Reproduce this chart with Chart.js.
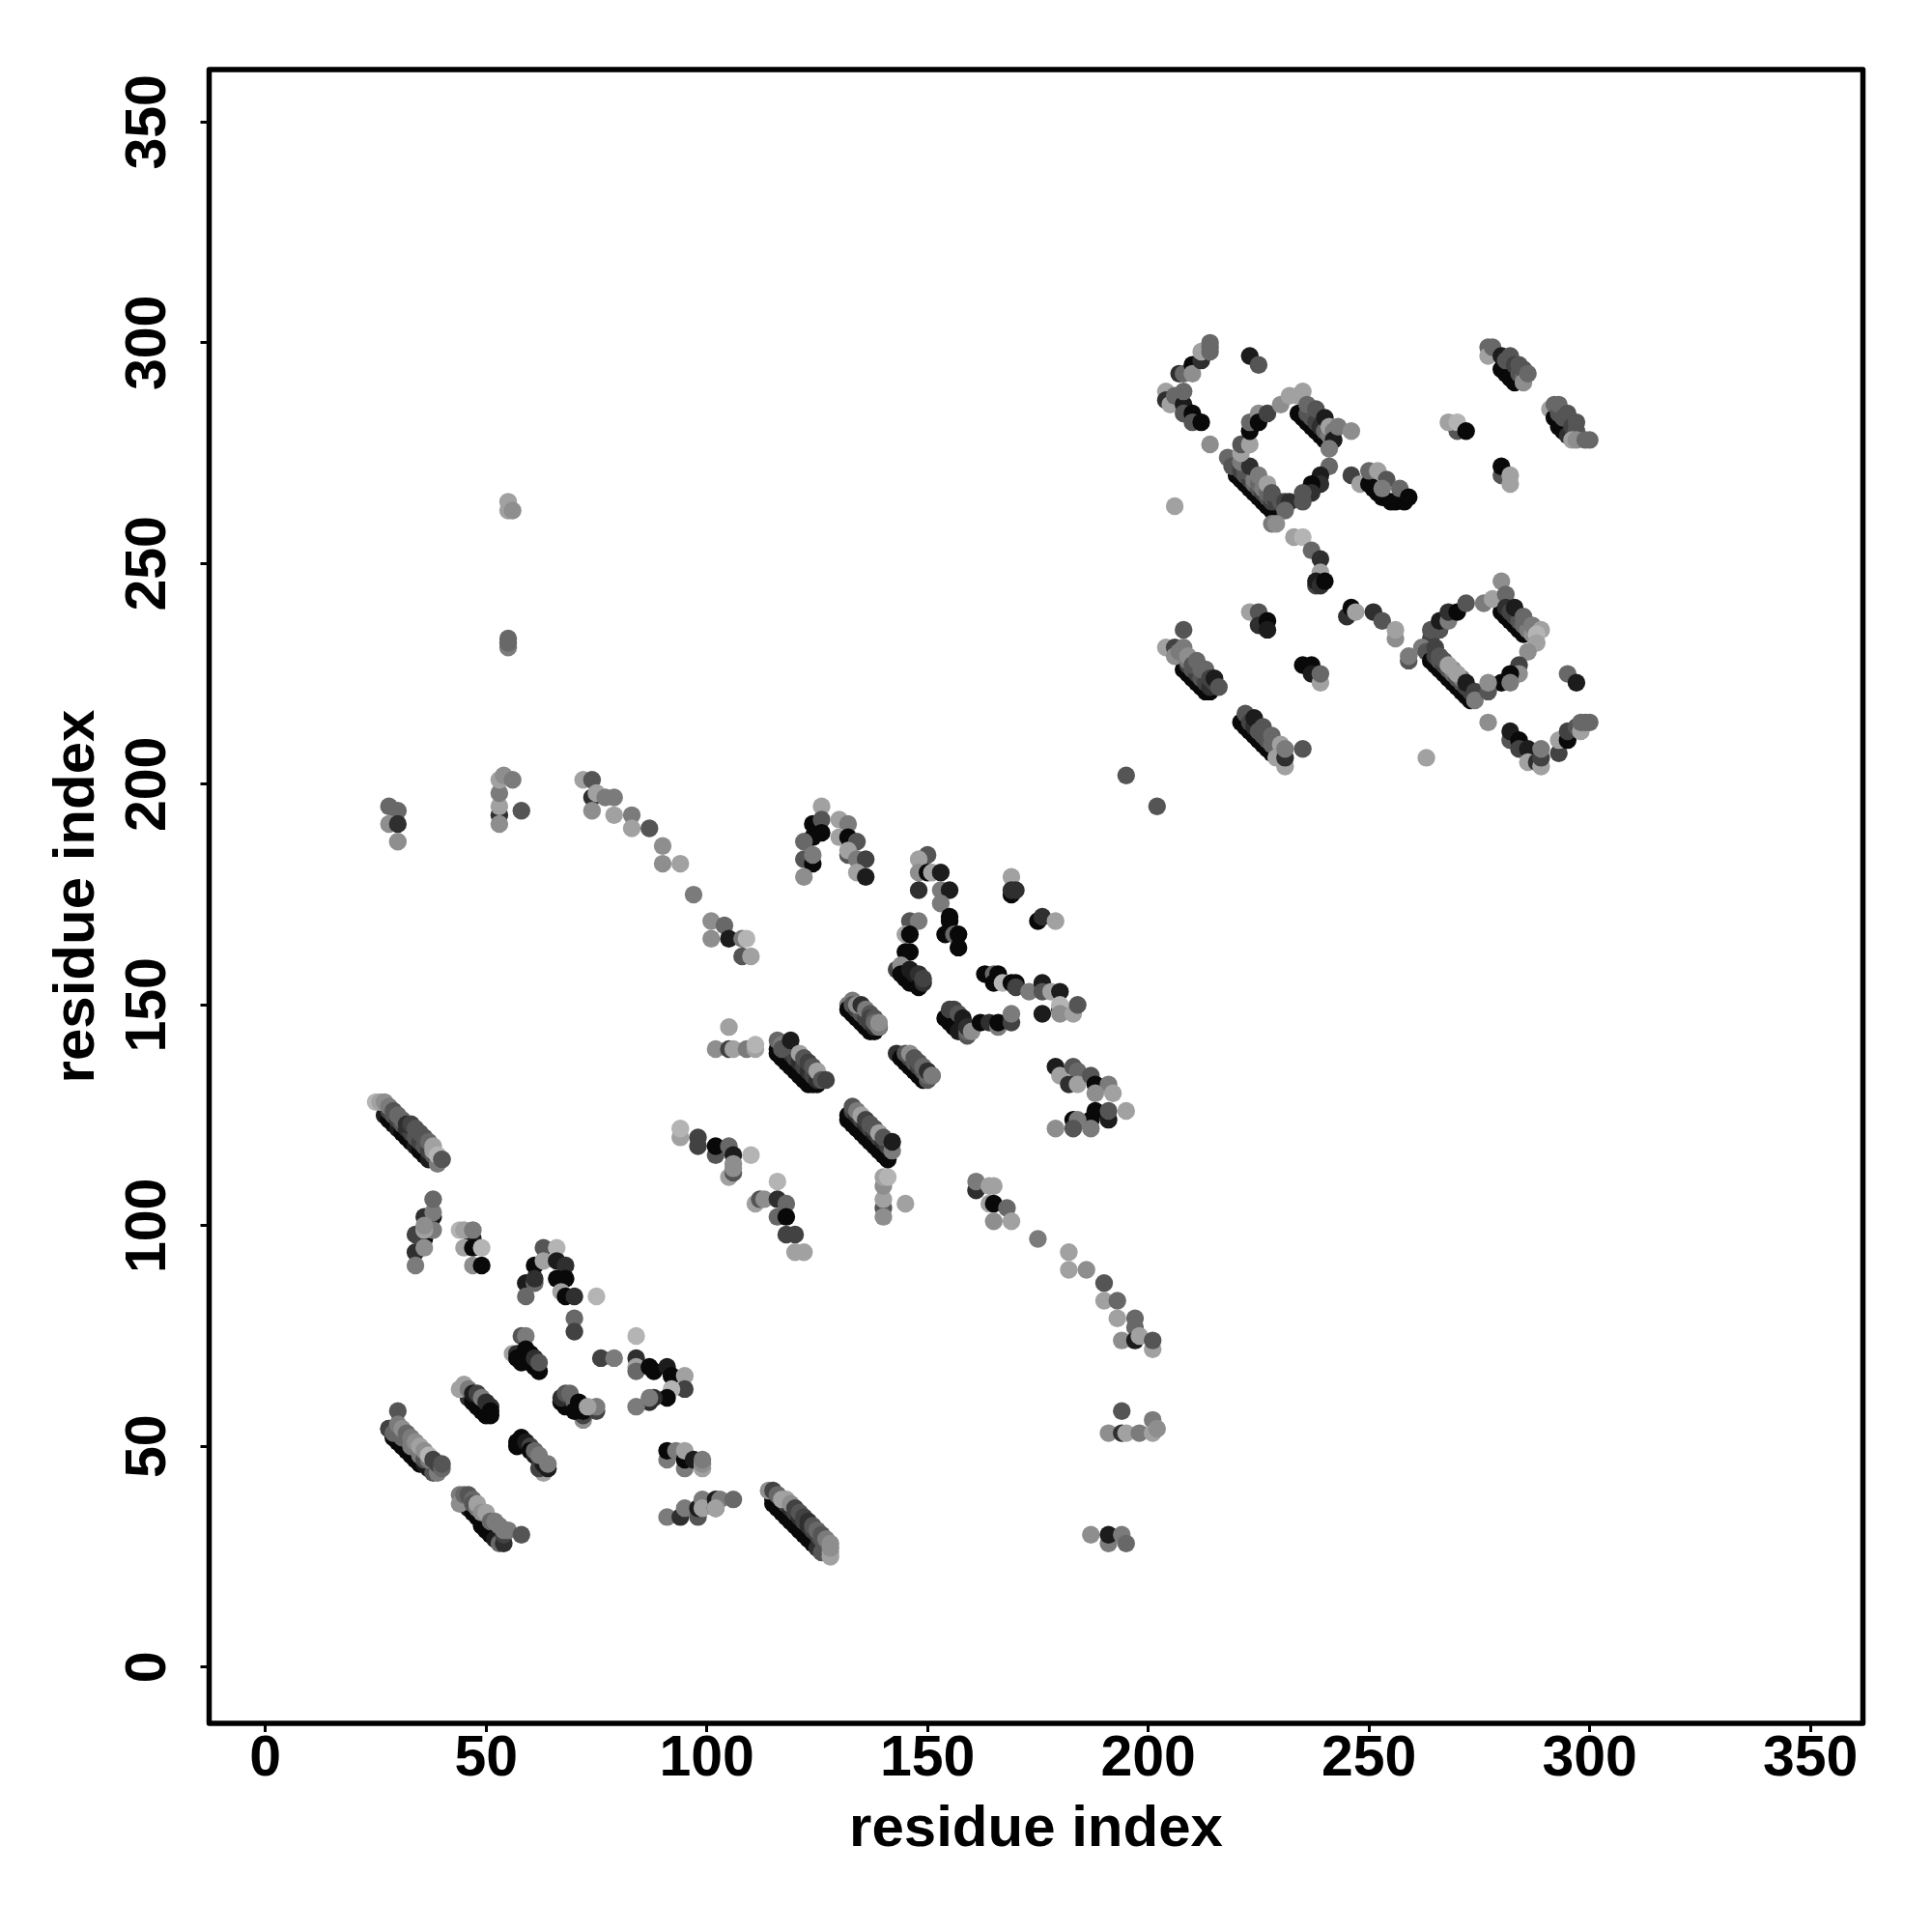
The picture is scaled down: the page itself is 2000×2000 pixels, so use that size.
<!DOCTYPE html>
<html>
<head>
<meta charset="utf-8">
<title>residue contacts</title>
<script src="https://cdn.jsdelivr.net/npm/chart.js@4/dist/chart.umd.min.js"></script>
<style>
    html, body { margin: 0; background: #fff; }
    canvas { display: block; }
</style>
</head>
<body>
<canvas id="contact-map" width="2000" height="2000"></canvas>
<script>
const tickValues = [0, 50, 100, 150, 200, 250, 300, 350];
const axisTitle = 'residue index';

// each contact is [residue x, residue y, strength 0 (weak) .. 9 (strong)]
const strand26to40 = [[27,125,8],[28,124,9],[29,123,9],[30,122,8],[31,121,9],[32,120,9],[33,119,9],[34,118,8],[35,117,9],[36,116,9],[37,115,8],
    [28,126,6],[29,125,5],[30,124,6],[31,123,5],[32,122,7],[33,121,6],[34,120,5],[35,119,6],[36,118,5],[37,117,6],[38,116,5],[39,114,3],
    [25,128,0],[26,128,1],[27,128,2],[28,127,3],[29,126,5],[30,125,4],[31,124,4],[32,123,7],[33,123,6],[34,122,5],[35,121,5],[36,120,5],[37,119,4],[38,118,1],[38,117,1],[39,116,0],[40,115,1],[40,115,5]];
const block34to38 = [[36,97,9],[34,98,6],[36,102,7],[38,102,8],[38,103,3],[38,106,4],[38,99,3],[36,99,1],[36,100,2],[34,94,7],[36,95,2],[34,91,3]];
const block44to49 = [[47,97,8],[44,99,0],[45,99,1],[47,99,3],[45,95,1],[47,95,9],[49,95,0],[47,91,2],[49,91,9]];
const block59to75 = [[63,95,5],[66,95,0],[61,91,9],[63,92,1],[66,92,8],[68,91,7],[59,87,8],[61,87,4],[61,88,7],[59,84,4],[66,88,9],[68,88,9],[67,85,1],[68,84,9],[70,84,7],[75,84,0],[70,79,4],[70,76,6]];
const block56to62 = [[58,75,5],[59,75,3],[56,71,1],[57,71,7],[57,70,9],[58,69,9],[59,72,9],[60,71,9],[60,69,9],[61,68,9],[62,67,9],[61,70,7],[62,69,5]];
const block76to95 = [[76,70,6],[79,70,3],[84,75,0],[84,70,7],[84,68,1],[84,67,4],[87,68,9],[88,67,9],[91,68,8],[92,66,9],[95,66,1],[95,63,6],[92,63,0],[91,61,9],[88,61,7],[87,60,7],[84,59,3],[87,61,3]];
const block67to75 = [[67,60,9],[68,59,9],[67,61,7],[68,62,5],[69,62,4],[70,60,4],[72,56,2],[72,57,6],[71,60,9],[72,59,9],[72,58,9],[70,58,9],[75,58,6],[75,59,3],[73,59,1]];
const strand44to51 = [[46,61,7],[47,60,9],[48,59,9],[49,58,9],[50,57,9],[51,57,9],[44,63,1],[45,64,1],[46,63,3],[47,62,8],[48,62,6],[49,61,3],[50,60,7],[51,59,7],[51,58,9]];
const strand57to64 = [[57,51,9],[58,52,9],[57,50,9],[59,51,8],[60,50,6],[60,49,9],[61,48,8],[62,47,7],[63,44,1],[62,45,6],[63,46,8],[61,49,4],[62,48,3],[64,45,8],[64,46,3]];
const strand28to40 = [[28,54,8],[29,52,9],[30,51,9],[31,50,9],[32,49,9],[33,48,9],[34,47,9],[35,46,9],[36,46,8],[37,45,8],[38,44,5],[39,44,3],[30,58,5],[28,54,6],[29,53,4],[30,53,4],[31,52,4],[33,50,3],[35,48,3],[36,47,5],[37,47,3],[30,55,3],[31,54,2],[32,53,4],[33,52,3],[34,51,2],[35,50,1],[36,49,2],[37,48,0],[38,47,6],[39,46,6],[40,45,4],[40,46,5]];
const strand44to58 = [[45,37,7],[46,36,8],[47,35,9],[48,34,9],[49,33,9],[49,32,9],[50,31,9],[51,30,9],[52,29,8],[53,28,4],[54,28,7],[44,39,3],[44,37,2],[45,39,4],[46,39,5],[47,38,4],[47,37,5],[48,36,3],[48,37,1],[49,35,2],[50,35,1],[51,33,4],[52,33,3],[53,32,3],[54,30,6],[54,31,3],[55,31,3],[58,30,5]];
const block91to99 = [[91,47,3],[91,49,9],[93,49,3],[95,45,3],[95,47,9],[95,49,1],[97,47,8],[99,45,1],[99,46,2],[99,47,3]];
const block91to106 = [[91,34,3],[94,34,7],[95,36,3],[98,34,5],[98,36,8],[99,38,3],[99,36,1],[102,36,6],[102,38,8],[103,38,3],[102,36,1],[106,38,4]];
const arc94to110 = [[94,120,1],[94,122,0],[98,118,6],[98,120,6],[102,116,5],[102,118,9],[105,118,4],[106,116,8],[110,116,0],[105,111,1],[106,112,5],[106,113,2],[106,114,2]];
const arc111to122 = [[116,110,0],[111,105,1],[112,106,5],[113,106,2],[116,106,7],[118,105,4],[116,102,4],[118,102,9],[118,98,6],[120,98,6],[120,94,1],[122,94,1]];
const strand114to128 = [[115,38,8],[115,37,9],[116,36,9],[117,35,9],[118,34,9],[119,33,9],[120,32,9],[121,31,9],[122,30,9],[123,29,9],[124,28,9],[125,27,7],[126,26,5],
    [116,39,6],[117,38,7],[118,37,6],[119,36,7],[120,35,6],[121,34,7],[122,33,6],[123,32,7],[124,31,6],[125,30,6],[126,29,5],
    [114,40,2],[115,40,6],[116,39,4],[117,38,1],[118,38,1],[119,37,2],[120,36,6],[121,35,5],[122,34,6],[123,33,7],[124,32,5],[125,31,4],[126,30,5],[128,25,1],[128,26,1],[127,29,3],[128,27,2],[128,28,2]];
const block187to195 = [[187,30,2],[191,28,3],[191,30,8],[194,30,3],[195,28,4]];
const block191to202 = [[194,58,5],[201,56,3],[191,53,2],[194,53,7],[195,53,1],[198,53,3],[201,53,1],[202,54,2]];
const arc175to201 = [[175,97,3],[182,94,1],[182,90,1],[186,90,2],[190,87,5],[190,83,1],[193,83,4],[193,79,1],[197,79,4],[197,77,4],[194,74,2],[197,74,8],[198,75,1],[201,72,1],[201,74,5]];
const block161to169 = [[161,108,7],[161,110,3],[164,109,1],[165,109,1],[164,105,1],[165,105,9],[168,104,4],[165,101,2],[169,101,1]];
const column140to145 = [[140,104,5],[140,102,2],[140,106,1],[140,109,2],[140,111,1],[141,111,0],[145,105,1]];
const strand131to142 = [[132,125,9],[132,124,9],[133,123,9],[134,122,9],[135,121,9],[136,120,9],[137,119,9],[138,118,9],[139,117,9],[140,116,9],[141,115,9],
    [133,126,6],[134,125,7],[135,124,6],[136,123,7],[137,122,6],[138,121,7],[139,120,6],[140,119,7],[141,118,6],
    [133,127,5],[134,126,3],[135,125,1],[136,124,6],[137,123,5],[138,122,5],[139,121,1],[140,120,5],[142,117,3],[142,119,8]];
const strand116to127 = [[116,140,9],[116,139,9],[117,138,9],[118,137,9],[119,136,9],[120,135,9],[121,134,9],[122,133,9],[123,132,9],[124,132,9],[125,132,9],
    [118,140,6],[119,139,7],[120,138,6],[121,137,7],[122,136,6],[123,135,7],[124,134,6],[125,133,7],
    [116,142,4],[117,141,3],[117,140,5],[119,142,8],[121,139,1],[122,138,5],[123,137,6],[124,136,5],[125,135,1],[126,133,5],[127,133,6]];
const row102to111 = [[105,145,1],[102,140,2],[105,140,6],[106,140,1],[109,140,3],[111,140,1],[111,141,0]];
const strand132to139 = [[132,150,3],[133,151,3],[132,149,9],[133,148,9],[134,147,9],[135,146,9],[136,145,9],[137,144,9],[138,144,9],[139,145,9],[133,150,5],[134,149,6],[135,148,5],[136,147,6],[137,146,6],[138,145,7],[134,150,2],[135,150,7],[136,149,3],[137,148,5],[137,147,6],[138,147,5],[138,146,4],[139,145,3],[139,146,2]];
const strand143to151 = [[143,139,7],[144,138,9],[145,137,9],[146,136,9],[147,135,9],[148,134,9],[149,133,9],[150,133,5],[146,138,6],[147,137,5],[148,136,6],[149,135,5],[150,134,4],[145,139,5],[146,139,2],[147,138,5],[148,137,5],[149,136,4],[150,135,7],[151,134,5],[151,134,3]];
const peak122to136 = [[126,195,1],[124,191,9],[126,192,5],[124,188,9],[126,189,9],[122,187,4],[122,183,5],[124,182,9],[124,184,3],[122,179,2],
    [130,192,1],[132,191,3],[130,188,1],[132,188,9],[134,187,5],[132,184,5],[132,185,1],[134,183,3],[136,183,6],[134,180,1],[136,179,8]];
const arc147to157 = [[150,184,5],[148,183,1],[148,180,2],[150,180,9],[151,180,1],[153,180,8],[148,176,7],[153,176,3],[155,176,8],[153,173,3],[155,170,9],[155,169,9],[154,166,9],[156,166,4],[157,166,9],[157,163,9]];
const arc143to149 = [[146,169,5],[148,169,3],[145,166,1],[146,166,9],[145,162,9],[146,162,9],[143,158,6],[144,159,2],[144,157,9],[145,156,9],[146,155,9],[146,158,8],[147,157,8],[148,154,9],[148,157,7],[149,155,7],[149,156,6]];
const block169to179 = [[169,179,1],[169,175,9],[169,176,7],[170,176,7],[175,169,9],[176,170,7],[179,169,1]];
const row163to184 = [[163,157,9],[165,157,4],[166,157,9],[165,155,9],[167,155,0],[169,155,9],[170,155,9],[170,154,6],[173,153,3],[176,155,8],[176,153,5],[178,153,1],[180,153,8],[180,149,8],[180,150,0],[176,148,8],[180,148,2],[183,148,1],[184,150,5]];
const row154to169 = [[154,147,9],[155,146,9],[156,145,9],[155,149,6],[156,149,6],[157,148,5],[158,147,8],[158,146,8],[157,144,8],[159,143,5],[159,144,4],[159,145,7],[160,144,2],[162,146,9],[164,146,7],[166,145,3],[166,146,9],[169,146,6],[169,148,3]];
const block179to195 = [[179,136,8],[180,134,1],[183,136,5],[184,135,4],[182,132,7],[184,132,1],[187,134,5],[188,132,9],[191,132,3],[188,130,2],[192,130,1],[187,124,9],[188,126,9],[191,124,8],[191,126,5],[195,126,1],[183,124,9],[184,124,3],[179,122,2],[183,122,5],[187,122,3]];
const column28to58 = [[28,195,4],[30,194,4],[28,191,2],[30,191,7],[30,187,2],[53,193,7],[53,191,2],[53,195,1],[53,198,3],[53,201,1],[54,202,2],[56,201,3],[58,194,5],[55,264,1],[55,262,1],[56,262,2],[55,231,3],[55,232,4],[55,233,4]];
const arc72to110 = [[72,201,1],[74,201,5],[74,197,7],[75,198,1],[74,194,2],[77,197,3],[79,197,3],[79,193,1],[83,193,3],[83,190,1],[87,190,5],[90,186,2],[90,182,2],[94,182,1],[97,175,3],[101,169,2],[101,165,2],[104,168,4],[105,165,8],[108,165,3],[108,161,5],[109,165,0],[110,161,1]];
const strand203to214 = [[204,289,1],[204,287,7],[205,286,1],[206,288,4],[208,286,8],[208,289,4],[208,284,5],[210,284,9],[210,282,5],[212,282,9],[207,293,7],[208,293,4],[210,295,9],[210,293,2],[212,296,7],[212,298,1],[214,298,4],[214,299,4],[214,300,4],[214,277,2],[206,263,1],[223,297,8],[225,295,5]];
const ringOne = [[220,270,9],[221,269,9],[222,268,9],[223,267,9],[224,266,9],[225,265,9],[226,264,9],[227,263,9],[228,262,9],[218,274,4],[219,272,5],
    [221,271,6],[222,270,5],[223,269,6],[224,268,4],[225,267,5],[226,266,6],[227,265,5],[228,264,6],
    [221,272,6],[222,271,5],[224,269,3],[225,268,4],[226,267,3],[227,266,4],[228,265,5],[229,264,6],
    [221,273,3],[223,272,7],[225,270,3],[227,268,1],[228,266,5],[230,264,5],[231,264,6],[232,264,7],[231,262,4],[228,259,3],[229,259,2],
    [221,275,1],[221,277,5],[223,277,1],[223,280,9],[223,282,4],[225,284,2],[225,282,9],[227,284,6],[230,286,2],[232,288,1],[234,288,1],[235,289,1],
    [234,284,9],[235,283,9],[236,282,9],[237,281,9],[238,280,9],[239,279,9],[240,278,9],[241,277,9],
    [236,284,5],[237,283,5],[238,282,6],[239,281,7],[240,280,4],[241,279,3],
    [236,286,4],[238,285,5],[240,283,8],[241,281,1],[242,280,3],[242,278,8],[241,276,3],[243,281,3],[246,280,2],
    [241,272,4],[239,270,8],[239,268,7],[237,268,9],[237,266,7],[235,266,5],[235,264,5]];
const strand246to259 = [[246,270,6],[248,268,1],[250,268,9],[251,267,9],[252,266,9],[253,265,9],[255,264,9],[256,264,9],[258,264,9],[250,271,4],[252,271,1],[254,269,5],[253,267,3],[257,267,4],[259,265,9]];
const block268to282 = [[270,280,5],[268,282,1],[270,282,0],[272,280,9],[280,270,5],[280,272,9],[282,268,1],[282,270,1]];
const strand276to286 = [[277,299,4],[277,297,1],[278,299,4],[280,294,9],[281,293,9],[282,292,9],[283,291,9],[280,297,8],[281,296,5],[282,297,5],[283,295,6],[284,293,5],[284,295,5],[285,292,4],[285,294,5],[285,291,2],[286,293,4]];
const strand291to300 = [[291,285,1],[292,283,9],[293,281,9],[294,280,9],[295,279,7],[292,286,4],[293,284,5],[293,286,4],[294,283,5],[295,284,5],[296,281,6],[297,280,5],[297,282,5],[296,278,1],[297,278,2],[299,278,4],[300,278,4]];
const arc233to240 = [[233,256,1],[235,256,0],[237,253,4],[239,251,7],[239,248,1],[238,245,6],[238,246,8],[239,245,7],[240,246,9]];
const strand204to216 = [[208,226,9],[209,225,9],[210,224,9],[211,223,9],[212,222,9],[213,221,9],[214,221,9],[209,227,6],[210,226,5],[211,225,6],[212,224,5],[213,223,6],[214,222,7],[208,235,5],[204,231,1],[206,231,6],[206,229,2],[207,230,3],[208,231,3],[209,228,3],[209,229,2],[210,227,5],[211,228,4],[212,226,4],[213,226,4],[214,224,6],[215,223,6],[215,224,8],[216,222,5]];
const strand221to235 = [[221,214,9],[222,213,9],[223,212,9],[224,211,9],[225,210,9],[226,209,9],[227,208,9],[228,207,9],[222,216,5],[223,214,6],[224,213,7],[224,215,8],[225,212,5],[226,211,5],[226,213,5],[227,210,5],[228,209,4],[228,211,4],[229,208,4],[229,206,1],[230,209,1],[231,204,1],[231,206,7],[231,208,3],[235,208,5],[195,202,5],[202,195,5],[263,206,1]];
const block223to239 = [[223,239,1],[225,239,5],[225,236,7],[227,237,9],[227,235,8],[235,227,9],[237,227,9],[237,225,8],[239,223,1],[239,225,4]];
const arc245to259 = [[245,238,7],[246,240,9],[247,239,1],[251,239,7],[253,237,5],[256,233,2],[256,235,1],[259,228,5],[259,229,3]];
const ringTwo = [[264,233,6],[262,231,3],[263,230,5],[265,230,5],[264,235,5],[266,235,5],[266,237,8],[268,237,3],[268,239,7],[270,239,9],[272,241,5],
    [264,228,9],[265,227,9],[266,226,9],[267,225,9],[268,224,9],[269,223,9],[270,222,9],[271,221,9],[272,220,9],[273,219,9],
    [265,231,6],[265,229,6],[266,228,5],[267,227,6],[268,226,5],[269,225,4],[270,224,5],[271,223,5],[272,222,6],[273,221,6],
    [266,229,5],[267,228,5],[269,226,2],[271,224,3],
    [268,227,1],[270,225,1],[272,223,8],[274,221,6],[274,219,3],
    [280,239,9],[281,238,9],[282,237,9],[283,236,9],[284,235,9],[285,234,9],[280,246,2],[276,241,3],[278,242,1],[281,243,4],
    [281,240,7],[282,239,6],[283,238,6],[284,237,5],[285,236,4],[286,235,3],[287,234,2],
    [283,240,8],[285,238,4],[287,236,3],[289,235,1],[288,234,0],[288,232,1],[286,230,2],
    [284,227,6],[284,225,2],[282,225,9],[280,223,9],[282,223,3],[277,221,5],[277,223,2],[277,214,2],[295,225,4],[297,223,8]];
const corner282to300 = [[282,210,5],[282,212,8],[284,210,9],[284,208,6],[286,208,8],[286,205,1],[288,205,7],[289,204,1],[289,206,6],[289,208,3],[293,207,6],[293,210,1],[295,210,9],[295,212,6],[297,213,5],[298,212,1],[298,214,4],[299,214,4],[300,214,4]];

const contacts = [
    strand26to40, block34to38, block44to49, block59to75, block56to62, block76to95, block67to75,
    strand44to51, strand57to64, strand28to40, strand44to58, block91to99, block91to106, arc94to110,
    arc111to122, strand114to128, block187to195, block191to202, arc175to201, block161to169, column140to145,
    strand131to142, strand116to127, row102to111, strand132to139, strand143to151, peak122to136, arc147to157,
    arc143to149, block169to179, row163to184, row154to169, block179to195, column28to58, arc72to110,
    strand203to214, ringOne, strand246to259, block268to282, strand276to286, strand291to300, arc233to240,
    strand204to216, strand221to235, block223to239, arc245to259, ringTwo, corner282to300,
].flat();

function strengthColor(level) {
    const g = 180 - level * 19;
    return `rgb(${g},${g},${g})`;
}

function axisOptions(extra) {
    return {
        type: 'linear',
        min: -12.74,
        max: 361.9,
        afterBuildTicks(scale) {
            scale.ticks = tickValues.map((value) => ({ value }));
        },
        border: { display: false },
        grid: {
            drawOnChartArea: false,
            tickLength: 9,
            tickWidth: 3,
            tickColor: '#000',
        },
        ...extra,
    };
}

// box round the plot, and the y tick labels which R turns on their side
const framePlugin = {
    id: 'frame',
    afterDraw(chart) {
        const { ctx, chartArea, scales } = chart;
        ctx.save();
        ctx.strokeStyle = '#000';
        ctx.lineWidth = 5.5;
        ctx.lineJoin = 'round';
        ctx.strokeRect(chartArea.left, chartArea.top, chartArea.width, chartArea.height);
        ctx.fillStyle = '#000';
        ctx.font = 'bold 59px "Liberation Sans"';
        ctx.textAlign = 'center';
        ctx.textBaseline = 'alphabetic';
        tickValues.forEach((v) => {
            ctx.save();
            ctx.translate(171, scales.y.getPixelForValue(v));
            ctx.rotate(-Math.PI / 2);
            ctx.fillText(String(v), 0, 0);
            ctx.restore();
        });
        ctx.restore();
    },
};

new Chart(document.getElementById('contact-map'), {
    type: 'scatter',
    data: {
        datasets: [{
            label: 'contacts',
            data: contacts.map((c) => ({ x: c[0], y: c[1] })),
            pointRadius: 9.2,
            pointBorderWidth: 0,
            pointBackgroundColor: contacts.map((c) => strengthColor(c[2])),
        }],
    },
    options: {
        responsive: false,
        animation: false,
        layout: { padding: { top: 72, right: 71.5, bottom: 0, left: 0 } },
        plugins: {
            legend: { display: false },
            tooltip: { enabled: false },
        },
        scales: {
            x: axisOptions({
                afterFit(scale) {
                    scale.height = 216;
                },
                ticks: {
                    autoSkip: false,
                    maxRotation: 0,
                    padding: -7,
                    color: '#000',
                    font: { family: '"Liberation Sans"', size: 59, weight: 'bold' },
                },
                title: {
                    display: true,
                    text: axisTitle,
                    color: '#000',
                    font: { family: '"Liberation Sans"', size: 60, weight: 'bold' },
                    padding: { top: 0, bottom: 70 },
                },
            }),
            y: axisOptions({
                afterFit(scale) {
                    scale.width = 216.5;
                },
                ticks: { display: false },
                title: {
                    display: true,
                    text: axisTitle,
                    color: '#000',
                    font: { family: '"Liberation Sans"', size: 60, weight: 'bold' },
                    padding: { top: 44, bottom: 0 },
                },
            }),
        },
    },
    plugins: [framePlugin],
});
</script>
</body>
</html>
